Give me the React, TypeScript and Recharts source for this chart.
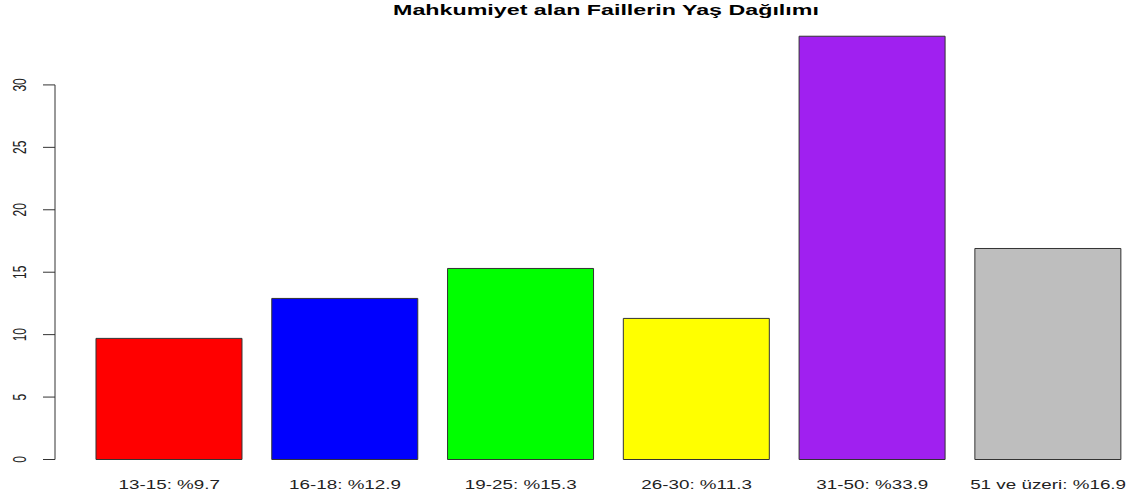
import { Bar, BarChart, Cell, ReferenceLine, XAxis, YAxis } from "recharts";

const title = "Mahkumiyet alan Faillerin Yaş Dağılımı";

const categories = [
  "13-15: %9.7",
  "16-18: %12.9",
  "19-25: %15.3",
  "26-30: %11.3",
  "31-50: %33.9",
  "51 ve üzeri: %16.9",
];

const values = [9.7, 12.9, 15.3, 11.3, 33.9, 16.9];

// R's base palette: red, blue, green, yellow, purple, gray
const colors = ["#ff0000", "#0000ff", "#00ff00", "#ffff00", "#a020f0", "#bebebe"];

const yTicks = [0, 5, 10, 15, 20, 25, 30];

const data = categories.map((label, i) => ({ label, value: values[i] }));

const FONT = '"Liberation Sans", Arial, sans-serif';
// the source image was stretched sideways, so the text is too
const STRETCH = 1.57;

function YTick({ x, y, payload }: any) {
  return (
    <g transform={`translate(${x},${y}) scale(${STRETCH},1)`}>
      <text transform="rotate(-90)" textAnchor="middle" fontSize={12} fontFamily={FONT} fill="#222">
        {payload.value}
      </text>
    </g>
  );
}

function XTick({ x, y, payload }: any) {
  return (
    <g transform={`translate(${x},${y}) scale(${STRETCH},1)`}>
      <text textAnchor="middle" fontSize={12} fontFamily={FONT} fill="#222">
        {payload.value}
      </text>
    </g>
  );
}

export default function App() {
  return (
    <div
      style={{
        position: "absolute",
        left: 0,
        top: 0,
        width: 1129,
        height: 499,
        overflow: "hidden",
        background: "#fff",
      }}
    >
      <div
        style={{
          position: "absolute",
          left: 0,
          top: 3,
          width: 1212,
          textAlign: "center",
          fontFamily: FONT,
          fontWeight: "bold",
          fontSize: 14,
          lineHeight: "14px",
          color: "#000",
          transform: "scaleX(1.66)",
          transformOrigin: "606px 0",
          whiteSpace: "nowrap",
        }}
      >
        {title}
      </div>
      <BarChart
        width={1136}
        height={499}
        data={data}
        margin={{ top: 10, right: 0, bottom: 9.5, left: 0 }}
        barCategoryGap="8.33%"
      >
        <XAxis
          dataKey="label"
          padding={{ left: 26.35, right: 0 }}
          axisLine={false}
          tickLine={false}
          tickSize={0}
          tickMargin={29.5}
          height={30}
          interval={0}
          tick={<XTick />}
        />
        <XAxis xAxisId="line" type="number" domain={[0, 1]} allowDataOverflow hide />
        <YAxis
          domain={[0, 36]}
          ticks={yTicks}
          width={55}
          axisLine={false}
          tickLine={{ stroke: "#333" }}
          tickSize={12}
          tickMargin={17}
          tick={<YTick />}
        />
        <ReferenceLine
          xAxisId="line"
          segment={[
            { x: 0, y: 0 },
            { x: 0, y: 30 },
          ]}
          stroke="#333"
          ifOverflow="visible"
        />
        <Bar dataKey="value" stroke="#333" strokeWidth={1} isAnimationActive={false}>
          {data.map((d, i) => (
            <Cell key={d.label} fill={colors[i]} />
          ))}
        </Bar>
      </BarChart>
    </div>
  );
}
